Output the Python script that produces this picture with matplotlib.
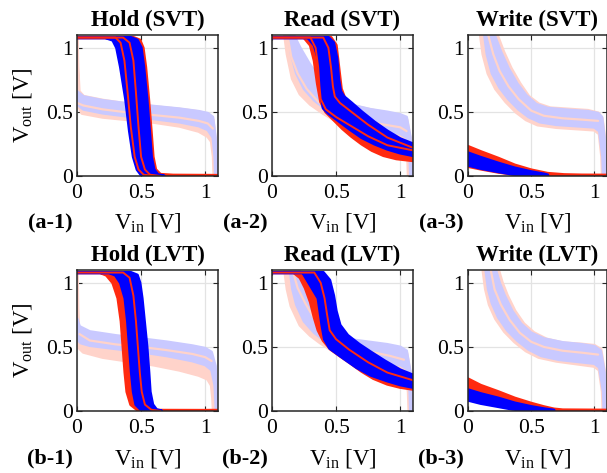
import matplotlib
matplotlib.use("Agg")
import matplotlib.pyplot as plt

plt.rcParams['font.family'] = ['Liberation Serif', 'DejaVu Serif']
plt.rcParams['mathtext.fontset'] = 'custom'
plt.rcParams['mathtext.rm'] = 'Liberation Serif'
plt.rcParams['mathtext.it'] = 'Liberation Serif:italic'

# ---------------- data ----------------
TITLES = ["Hold (SVT)", "Read (SVT)", "Write (SVT)",
          "Hold (LVT)", "Read (LVT)", "Write (LVT)"]
PANEL_TAGS = ["(a-1)", "(a-2)", "(a-3)", "(b-1)", "(b-2)", "(b-3)"]
TICKS = [0, 0.5, 1]
TICK_LABELS = ["0", "0.5", "1"]

# (a-1) Hold SVT
A1_RED_L = [(0, 1.08), (0.26, 1.08), (0.31, 1.06), (0.34, 1.0), (0.37, 0.85), (0.40, 0.6), (0.43, 0.35), (0.46, 0.15), (0.49, 0.05), (0.52, 0.01), (0.58, 0.003), (1.1, 0.0)]
A1_RED_R = [(0, 1.08), (0.44, 1.08), (0.49, 1.06), (0.515, 1.0), (0.535, 0.85), (0.558, 0.6), (0.578, 0.35), (0.593, 0.15), (0.613, 0.05), (0.65, 0.012), (0.75, 0.006), (1.1, 0.004)]
A1_BLUE_L = [(0, 1.08), (0.22, 1.08), (0.28, 1.06), (0.31, 1.0), (0.34, 0.85), (0.38, 0.6), (0.41, 0.35), (0.44, 0.15), (0.47, 0.05), (0.50, 0.01), (0.55, 0.0)]
A1_BLUE_R = [(0, 1.08), (0.42, 1.08), (0.47, 1.06), (0.50, 1.0), (0.52, 0.85), (0.545, 0.6), (0.565, 0.35), (0.58, 0.15), (0.60, 0.05), (0.63, 0.01), (0.68, 0.0)]
A1_RED_S1 = [(0, 1.08), (0.30, 1.08), (0.34, 1.04), (0.37, 0.9), (0.395, 0.65), (0.42, 0.38), (0.45, 0.15), (0.48, 0.05), (0.52, 0.01), (0.6, 0.0)]
A1_RED_S2 = [(0, 1.08), (0.36, 1.08), (0.41, 1.04), (0.44, 0.9), (0.46, 0.65), (0.48, 0.38), (0.50, 0.15), (0.53, 0.05), (0.57, 0.01), (0.65, 0.0)]
A1_LRED_HI = [(0.0, 1.1), (0.005, 0.85), (0.015, 0.66), (0.05, 0.62), (0.2, 0.59), (0.4, 0.56), (0.6, 0.54), (0.8, 0.52), (0.95, 0.50), (1.02, 0.48), (1.06, 0.44), (1.075, 0.3), (1.085, 0.0)]
A1_LRED_LO = [(0.0, 1.1), (0.003, 0.8), (0.01, 0.55), (0.04, 0.49), (0.2, 0.46), (0.4, 0.44), (0.6, 0.42), (0.8, 0.39), (0.95, 0.35), (1.02, 0.31), (1.05, 0.27), (1.065, 0.15), (1.07, 0.0)]
A1_LBLUE_HI = [(0.0, 0.66), (0.05, 0.62), (0.2, 0.59), (0.4, 0.565), (0.6, 0.545), (0.8, 0.525), (0.95, 0.505), (1.02, 0.49), (1.06, 0.46), (1.08, 0.3), (1.09, 0.0)]
A1_LBLUE_LO = [(0.0, 0.56), (0.05, 0.52), (0.2, 0.49), (0.4, 0.465), (0.6, 0.445), (0.8, 0.42), (0.95, 0.39), (1.02, 0.36), (1.06, 0.3), (1.075, 0.15), (1.08, 0.0)]
A1_LRED_S1 = [(0.0, 0.57), (0.05, 0.55), (0.2, 0.52), (0.4, 0.495), (0.6, 0.475), (0.8, 0.455), (0.95, 0.43), (1.02, 0.41), (1.06, 0.37)]

# (a-2) Read SVT
A2_RED_L = [(0, 1.08), (0.25, 1.08), (0.30, 1.02), (0.33, 0.9), (0.355, 0.72), (0.38, 0.58), (0.42, 0.5), (0.48, 0.44), (0.55, 0.37), (0.62, 0.31), (0.70, 0.25), (0.78, 0.2), (0.87, 0.16), (0.97, 0.135), (1.1, 0.12)]
A2_RED_R = [(0, 1.08), (0.46, 1.08), (0.50, 1.02), (0.52, 0.85), (0.54, 0.68), (0.57, 0.6), (0.65, 0.52), (0.75, 0.42), (0.85, 0.33), (0.95, 0.26), (1.03, 0.22), (1.1, 0.2)]
A2_BLUE_L = [(0, 1.08), (0.28, 1.08), (0.33, 1.02), (0.36, 0.92), (0.38, 0.75), (0.39, 0.6), (0.40, 0.53), (0.44, 0.49), (0.52, 0.43), (0.6, 0.37), (0.7, 0.3), (0.8, 0.25), (0.9, 0.21), (1.0, 0.18), (1.1, 0.16)]
A2_BLUE_R = [(0, 1.08), (0.44, 1.08), (0.48, 1.04), (0.505, 0.92), (0.52, 0.75), (0.535, 0.66), (0.56, 0.62), (0.62, 0.57), (0.70, 0.5), (0.80, 0.42), (0.90, 0.35), (1.0, 0.29), (1.1, 0.25)]
A2_RED_S1 = [(0, 1.08), (0.3, 1.08), (0.34, 1.0), (0.36, 0.85), (0.37, 0.7), (0.38, 0.6), (0.42, 0.52), (0.5, 0.46), (0.6, 0.4), (0.75, 0.31), (0.9, 0.24), (1.1, 0.2)]
A2_RED_S2 = [(0, 1.08), (0.40, 1.08), (0.44, 1.0), (0.46, 0.85), (0.475, 0.7), (0.49, 0.62), (0.53, 0.57), (0.62, 0.5), (0.75, 0.4), (0.9, 0.3), (1.1, 0.22)]
A2_LRED_HI = [(0.15, 1.1), (0.2, 1.0), (0.27, 0.88), (0.35, 0.76), (0.43, 0.66), (0.52, 0.59), (0.62, 0.55), (0.75, 0.52), (0.9, 0.49), (1.0, 0.47), (1.05, 0.44), (1.075, 0.3), (1.085, 0)]
A2_LRED_LO = [(0.10, 1.1), (0.12, 0.95), (0.16, 0.76), (0.22, 0.64), (0.30, 0.56), (0.40, 0.49), (0.50, 0.43), (0.62, 0.38), (0.75, 0.35), (0.9, 0.32), (1.0, 0.30), (1.04, 0.27), (1.06, 0.15), (1.065, 0)]
A2_LBLUE_HI = [(0.17, 1.1), (0.22, 1.0), (0.29, 0.88), (0.37, 0.76), (0.45, 0.66), (0.54, 0.59), (0.64, 0.55), (0.77, 0.52), (0.9, 0.5), (1.0, 0.48), (1.05, 0.46), (1.08, 0.3), (1.09, 0)]
A2_LBLUE_LO = [(0.13, 1.1), (0.15, 0.95), (0.19, 0.8), (0.25, 0.68), (0.33, 0.59), (0.42, 0.52), (0.52, 0.46), (0.64, 0.41), (0.77, 0.38), (0.9, 0.35), (1.0, 0.33), (1.05, 0.3), (1.075, 0.15), (1.08, 0)]
A2_LRED_S1 = [(0.12, 1.1), (0.15, 0.93), (0.2, 0.8), (0.27, 0.68), (0.36, 0.58), (0.46, 0.51), (0.58, 0.46), (0.72, 0.43), (0.88, 0.4), (1.0, 0.38), (1.05, 0.35)]

# (a-3) Write SVT
A3_RED_HI = [(0, 0.23), (0.1, 0.19), (0.24, 0.138), (0.37, 0.085), (0.5, 0.047), (0.63, 0.02), (0.76, 0.01), (0.9, 0.007), (1.1, 0.006)]
A3_RED_LO = [(0, 0.075), (0.1, 0.055), (0.24, 0.03), (0.37, 0.012), (0.5, 0.004), (0.63, 0.002), (1.1, 0.0)]
A3_BLUE_HI = [(0, 0.18), (0.1, 0.145), (0.24, 0.10), (0.37, 0.062), (0.5, 0.033), (0.6, 0.015), (0.63, 0.008)]
A3_BLUE_LO = [(0, 0.085), (0.1, 0.06), (0.24, 0.034), (0.35, 0.015), (0.45, 0.005), (0.55, 0.002), (0.63, 0.0)]
A3_LRED_HI = [(0.23, 1.1), (0.28, 0.97), (0.34, 0.84), (0.41, 0.72), (0.48, 0.62), (0.56, 0.56), (0.65, 0.53), (0.8, 0.52), (0.95, 0.51), (1.03, 0.49), (1.06, 0.45), (1.08, 0.3), (1.09, 0)]
A3_LRED_LO = [(0.10, 1.1), (0.12, 0.95), (0.16, 0.8), (0.22, 0.68), (0.30, 0.58), (0.38, 0.5), (0.46, 0.44), (0.55, 0.40), (0.7, 0.38), (0.85, 0.37), (1.0, 0.36), (1.04, 0.33), (1.06, 0.15), (1.065, 0)]
A3_LBLUE_HI = [(0.21, 1.1), (0.26, 0.97), (0.32, 0.84), (0.39, 0.72), (0.46, 0.63), (0.54, 0.56), (0.63, 0.53), (0.8, 0.515), (0.95, 0.505), (1.03, 0.49), (1.06, 0.46), (1.08, 0.3), (1.085, 0)]
A3_LBLUE_LO = [(0.13, 1.1), (0.15, 0.95), (0.19, 0.8), (0.25, 0.69), (0.32, 0.6), (0.40, 0.52), (0.48, 0.46), (0.57, 0.42), (0.7, 0.40), (0.85, 0.39), (1.0, 0.38), (1.04, 0.35), (1.065, 0.15), (1.07, 0)]
A3_LRED_S1 = [(0.16, 1.1), (0.2, 0.95), (0.25, 0.82), (0.32, 0.7), (0.4, 0.6), (0.5, 0.51), (0.6, 0.47), (0.75, 0.45), (0.9, 0.44), (1.03, 0.43)]

# (b-1) Hold LVT
B1_RED_L = [(0, 1.08), (0.18, 1.08), (0.23, 1.06), (0.28, 1.0), (0.32, 0.88), (0.345, 0.7), (0.36, 0.5), (0.375, 0.3), (0.39, 0.15), (0.42, 0.05), (0.47, 0.01), (0.53, 0.0)]
B1_RED_R = [(0, 1.08), (0.30, 1.08), (0.34, 1.06), (0.37, 1.0), (0.39, 0.88), (0.405, 0.7), (0.42, 0.5), (0.435, 0.3), (0.45, 0.15), (0.48, 0.05), (0.53, 0.01), (0.62, 0.005), (1.1, 0.004)]
B1_BLUE_L = [(0, 1.08), (0.25, 1.08), (0.30, 1.06), (0.34, 1.0), (0.375, 0.88), (0.395, 0.7), (0.41, 0.5), (0.425, 0.3), (0.44, 0.15), (0.46, 0.05), (0.50, 0.01), (0.55, 0.0)]
B1_BLUE_R = [(0, 1.08), (0.42, 1.08), (0.47, 1.06), (0.49, 1.0), (0.507, 0.88), (0.525, 0.7), (0.545, 0.5), (0.56, 0.3), (0.57, 0.15), (0.59, 0.05), (0.62, 0.01), (0.66, 0.0)]
B1_RED_S1 = [(0, 1.08), (0.36, 1.08), (0.41, 1.04), (0.44, 0.9), (0.46, 0.7), (0.475, 0.5), (0.49, 0.3), (0.505, 0.15), (0.53, 0.05), (0.58, 0.01), (0.65, 0.0)]
B1_LRED_HI = [(0, 1.1), (0.005, 0.8), (0.012, 0.6), (0.05, 0.54), (0.2, 0.5), (0.4, 0.47), (0.6, 0.44), (0.8, 0.41), (0.95, 0.38), (1.02, 0.35), (1.05, 0.31), (1.07, 0.2), (1.075, 0)]
B1_LRED_LO = [(0, 1.1), (0.003, 0.7), (0.01, 0.5), (0.05, 0.46), (0.2, 0.42), (0.4, 0.39), (0.6, 0.36), (0.8, 0.32), (0.95, 0.28), (1.02, 0.25), (1.05, 0.2), (1.06, 0.1), (1.065, 0)]
B1_LBLUE_HI = [(0, 0.72), (0.02, 0.66), (0.1, 0.62), (0.3, 0.59), (0.5, 0.565), (0.7, 0.54), (0.9, 0.51), (1.0, 0.49), (1.05, 0.46), (1.08, 0.35), (1.095, 0)]
B1_LBLUE_LO = [(0, 0.56), (0.03, 0.53), (0.1, 0.51), (0.3, 0.485), (0.5, 0.46), (0.7, 0.43), (0.9, 0.39), (1.0, 0.36), (1.05, 0.32), (1.075, 0.2), (1.085, 0)]
B1_LRED_S1 = [(0.02, 0.6), (0.1, 0.55), (0.3, 0.52), (0.5, 0.5), (0.7, 0.475), (0.9, 0.445), (1.0, 0.42), (1.05, 0.39)]

# (b-2) Read LVT
B2_RED_L = [(0, 1.08), (0.17, 1.08), (0.22, 1.04), (0.26, 0.96), (0.30, 0.85), (0.33, 0.73), (0.36, 0.63), (0.40, 0.55), (0.46, 0.48), (0.53, 0.43), (0.61, 0.375), (0.70, 0.31), (0.79, 0.255), (0.9, 0.21), (1.0, 0.185), (1.1, 0.17)]
B2_RED_R = [(0, 1.08), (0.36, 1.08), (0.41, 1.02), (0.44, 0.9), (0.47, 0.75), (0.50, 0.65), (0.56, 0.57), (0.65, 0.48), (0.77, 0.38), (0.9, 0.3), (1.0, 0.26), (1.1, 0.23)]
B2_BLUE_L = [(0, 1.08), (0.24, 1.08), (0.30, 0.98), (0.36, 0.88), (0.39, 0.67), (0.41, 0.56), (0.45, 0.49), (0.56, 0.41), (0.66, 0.34), (0.77, 0.28), (0.9, 0.235), (1.0, 0.205), (1.1, 0.185)]
B2_BLUE_R = [(0, 1.08), (0.40, 1.08), (0.45, 1.02), (0.48, 0.9), (0.50, 0.78), (0.53, 0.67), (0.59, 0.59), (0.68, 0.52), (0.77, 0.46), (0.88, 0.39), (1.0, 0.32), (1.1, 0.28)]
B2_RED_S1 = [(0, 1.08), (0.33, 1.08), (0.38, 1.0), (0.41, 0.88), (0.43, 0.75), (0.45, 0.63), (0.5, 0.56), (0.6, 0.48), (0.75, 0.38), (0.9, 0.3), (1.1, 0.24)]
B2_LRED_HI = [(0.18, 1.1), (0.24, 1.0), (0.29, 0.9), (0.34, 0.78), (0.40, 0.66), (0.48, 0.59), (0.58, 0.55), (0.72, 0.52), (0.88, 0.5), (1.0, 0.48), (1.05, 0.45), (1.075, 0.3), (1.085, 0)]
B2_LRED_LO = [(0.10, 1.1), (0.12, 0.95), (0.15, 0.82), (0.22, 0.67), (0.30, 0.59), (0.38, 0.53), (0.46, 0.48), (0.56, 0.43), (0.7, 0.39), (0.85, 0.36), (1.0, 0.33), (1.04, 0.30), (1.065, 0.15), (1.07, 0)]
B2_LBLUE_HI = [(0.21, 1.1), (0.26, 1.0), (0.31, 0.9), (0.36, 0.78), (0.42, 0.67), (0.5, 0.6), (0.6, 0.56), (0.75, 0.54), (0.9, 0.52), (1.0, 0.5), (1.05, 0.47), (1.08, 0.3), (1.09, 0)]
B2_LBLUE_LO = [(0.14, 1.1), (0.16, 0.95), (0.19, 0.83), (0.25, 0.7), (0.33, 0.61), (0.41, 0.55), (0.49, 0.5), (0.6, 0.45), (0.72, 0.41), (0.86, 0.38), (1.0, 0.36), (1.05, 0.33), (1.075, 0.15), (1.08, 0)]
B2_LRED_S1 = [(0.16, 1.1), (0.2, 0.96), (0.26, 0.84), (0.33, 0.72), (0.41, 0.62), (0.5, 0.55), (0.62, 0.5), (0.78, 0.46), (0.92, 0.43), (1.03, 0.4)]

# (b-3) Write LVT
B3_RED_HI = [(0, 0.25), (0.1, 0.2), (0.24, 0.15), (0.37, 0.1), (0.5, 0.06), (0.6, 0.033), (0.68, 0.015), (0.75, 0.008), (1.1, 0.006)]
B3_RED_LO = [(0, 0.1), (0.1, 0.075), (0.24, 0.045), (0.37, 0.02), (0.5, 0.007), (0.6, 0.003), (1.1, 0.0)]
B3_BLUE_HI = [(0, 0.165), (0.1, 0.135), (0.24, 0.10), (0.37, 0.062), (0.5, 0.034), (0.6, 0.017), (0.68, 0.006)]
B3_BLUE_LO = [(0, 0.085), (0.1, 0.06), (0.24, 0.035), (0.35, 0.015), (0.45, 0.005), (0.55, 0.002), (0.68, 0.0)]
B3_LRED_HI = [(0.24, 1.1), (0.27, 1.0), (0.31, 0.9), (0.37, 0.78), (0.44, 0.68), (0.52, 0.61), (0.62, 0.56), (0.75, 0.53), (0.9, 0.52), (1.0, 0.51), (1.05, 0.48), (1.08, 0.3), (1.09, 0)]
B3_LRED_LO = [(0.12, 1.1), (0.14, 0.95), (0.17, 0.83), (0.22, 0.72), (0.29, 0.62), (0.37, 0.54), (0.46, 0.47), (0.56, 0.42), (0.7, 0.39), (0.85, 0.37), (1.0, 0.35), (1.04, 0.32), (1.065, 0.15), (1.07, 0)]
B3_LBLUE_HI = [(0.22, 1.1), (0.25, 1.0), (0.29, 0.9), (0.35, 0.78), (0.42, 0.68), (0.50, 0.61), (0.60, 0.565), (0.75, 0.535), (0.9, 0.52), (1.0, 0.505), (1.05, 0.47), (1.08, 0.3), (1.085, 0)]
B3_LBLUE_LO = [(0.14, 1.1), (0.16, 0.95), (0.19, 0.84), (0.24, 0.73), (0.31, 0.63), (0.39, 0.55), (0.48, 0.48), (0.58, 0.43), (0.72, 0.40), (0.86, 0.385), (1.0, 0.37), (1.04, 0.34), (1.07, 0.15), (1.075, 0)]
B3_LRED_S1 = [(0.18, 1.1), (0.21, 0.95), (0.26, 0.83), (0.33, 0.71), (0.41, 0.61), (0.5, 0.54), (0.6, 0.5), (0.75, 0.47), (0.9, 0.455), (1.03, 0.44)]

PANELS = [
    dict(lred=(A1_LRED_HI, A1_LRED_LO), lblue=(A1_LBLUE_HI, A1_LBLUE_LO), lstr=[A1_LRED_S1],
         red=(A1_RED_L, A1_RED_R), blue=(A1_BLUE_L, A1_BLUE_R), rstr=[A1_RED_S1, A1_RED_S2]),
    dict(lred=(A2_LRED_HI, A2_LRED_LO), lblue=(A2_LBLUE_HI, A2_LBLUE_LO), lstr=[A2_LRED_S1],
         red=(A2_RED_L, A2_RED_R), blue=(A2_BLUE_L, A2_BLUE_R), rstr=[A2_RED_S1, A2_RED_S2]),
    dict(lred=(A3_LRED_HI, A3_LRED_LO), lblue=(A3_LBLUE_HI, A3_LBLUE_LO), lstr=[A3_LRED_S1],
         red=(A3_RED_HI, A3_RED_LO), blue=(A3_BLUE_HI, A3_BLUE_LO), rstr=[]),
    dict(lred=(B1_LRED_HI, B1_LRED_LO), lblue=(B1_LBLUE_HI, B1_LBLUE_LO), lstr=[B1_LRED_S1],
         red=(B1_RED_L, B1_RED_R), blue=(B1_BLUE_L, B1_BLUE_R), rstr=[B1_RED_S1]),
    dict(lred=(B2_LRED_HI, B2_LRED_LO), lblue=(B2_LBLUE_HI, B2_LBLUE_LO), lstr=[B2_LRED_S1],
         red=(B2_RED_L, B2_RED_R), blue=(B2_BLUE_L, B2_BLUE_R), rstr=[B2_RED_S1]),
    dict(lred=(B3_LRED_HI, B3_LRED_LO), lblue=(B3_LBLUE_HI, B3_LBLUE_LO), lstr=[B3_LRED_S1],
         red=(B3_RED_HI, B3_RED_LO), blue=(B3_BLUE_HI, B3_BLUE_LO), rstr=[]),
]

# ---------------- styling ----------------
RED = '#ff2a10'
BLUE = '#0000ff'
LRED = '#ffd3ca'
LBLUE = '#c9c9ff'
W, H = 607, 473
COL_LEFT = [77, 272, 468]
COL_W = [141, 141, 139]
ROW_TOP = [35, 270]
ROW_H = 141

fig = plt.figure(figsize=(W / 100, H / 100), dpi=100)


def band(ax, edges, color, lw, z):
    a, b = edges
    pts = list(a) + list(reversed(b))
    xs = [p[0] for p in pts]
    ys = [p[1] for p in pts]
    ax.fill(xs, ys, facecolor=color, edgecolor=color, linewidth=lw,
            joinstyle='round', zorder=z)


def line(ax, pts, color, lw, z):
    ax.plot([p[0] for p in pts], [p[1] for p in pts], color=color, lw=lw,
            solid_capstyle='round', solid_joinstyle='round', zorder=z)


for i, p in enumerate(PANELS):
    r, c = divmod(i, 3)
    left = COL_LEFT[c]
    top = ROW_TOP[r]
    ax = fig.add_axes([left / W, 1 - (top + ROW_H) / H, COL_W[c] / W, ROW_H / H])
    ax.set_xlim(0, 1.1)
    ax.set_ylim(0, 1.1)

    band(ax, p['lred'], LRED, 2.5, 2)
    band(ax, p['lblue'], LBLUE, 2.0, 3)
    for s in p['lstr']:
        line(ax, s, LRED, 1.6, 4)
    band(ax, p['red'], RED, 2.3, 5)
    band(ax, p['blue'], BLUE, 2.3, 6)
    for s in p['rstr']:
        line(ax, s, RED, 1.4, 7)

    ax.set_xticks(TICKS)
    ax.set_xticklabels(TICK_LABELS)
    ax.set_yticks(TICKS)
    ax.set_yticklabels(TICK_LABELS)
    ax.tick_params(direction='in', length=3.5, width=0.8, labelsize=15.5,
                   top=True, right=True, colors='#262626', labelcolor='black')
    ax.tick_params(axis='x', pad=6)
    ax.tick_params(axis='y', pad=3)
    ax.grid(True, color='#e3e3e3', lw=0.9, zorder=0)
    ax.set_axisbelow(True)
    for sp in ax.spines.values():
        sp.set_color('#262626')
        sp.set_linewidth(1.1)
        sp.set_zorder(10)

    cx = (left + COL_W[c] / 2) / W
    fig.text(cx, 1 - (top - 9) / H, TITLES[i], ha='center', va='baseline',
             fontsize=16.5, fontweight='bold')
    fig.text(cx, 1 - (top + ROW_H + 53) / H, r'V$_{\mathrm{in}}$ [V]',
             ha='center', va='baseline', fontsize=16.5)
    fig.text((left - 4) / W, 1 - (top + ROW_H + 52) / H, PANEL_TAGS[i],
             ha='right', va='baseline', fontsize=16, fontweight='bold')
    if c == 0:
        fig.text(22 / W, 1 - (top + ROW_H / 2) / H, r'V$_{\mathrm{out}}$ [V]',
                 ha='center', va='center', rotation=90, fontsize=16.5)

fig.savefig('out.png', dpi=100)
